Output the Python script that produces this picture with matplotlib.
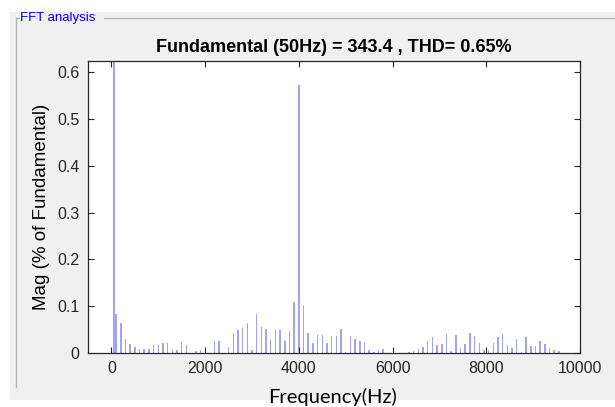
import matplotlib
matplotlib.use('Agg')
import matplotlib.pyplot as plt
from matplotlib.patches import Rectangle
from matplotlib.lines import Line2D

plt.rcParams['font.family'] = ['Liberation Sans', 'DejaVu Sans']

# harmonic spectrum, % of fundamental (fundamental itself = 100, clipped)
freqs = [50, 100, 200, 300, 400, 500, 600, 700, 800, 900, 1000, 1100, 1200,
         1300, 1400, 1500, 1600, 1800, 1900,
         2200, 2300, 2500, 2600, 2700, 2800, 2900, 3000, 3100, 3200, 3300,
         3400, 3500, 3600, 3700, 3800, 3900, 4000, 4100, 4200, 4300, 4400,
         4500, 4600, 4700, 4800, 4900, 5000, 5100, 5200, 5300, 5400, 5500,
         5600, 5700, 5800,
         6350, 6450, 6550, 6650, 6750, 6850, 6950, 7050, 7150, 7250, 7350,
         7450, 7550, 7650, 7750, 7850, 7950, 8050, 8150, 8250, 8350, 8450,
         8550, 8650, 8750, 8850, 8950, 9050, 9150, 9250, 9350, 9450, 9550]
mags = [100, 0.083, 0.063, 0.030, 0.018, 0.012, 0.008, 0.008, 0.007, 0.016,
        0.017, 0.020, 0.020, 0.005, 0.006, 0.022, 0.017, 0.004, 0.005,
        0.025, 0.025, 0.013, 0.043, 0.048, 0.052, 0.064, 0.005, 0.083, 0.055,
        0.050, 0.030, 0.051, 0.048, 0.025, 0.046, 0.109, 0.572, 0.102, 0.042,
        0.020, 0.038, 0.037, 0.020, 0.035, 0.035, 0.051, 0.002, 0.036, 0.030,
        0.025, 0.022, 0.006, 0.002, 0.006, 0.007,
        0.002, 0.004, 0.007, 0.013, 0.025, 0.033, 0.016, 0.018, 0.041, 0.003,
        0.038, 0.011, 0.019, 0.043, 0.035, 0.020, 0.005, 0.006, 0.020, 0.033,
        0.041, 0.016, 0.010, 0.030, 0.002, 0.033, 0.014, 0.014, 0.025, 0.019,
        0.010, 0.005, 0.004]

fund_hz = 50
fund_mag = 343.4
thd = 0.65

W, H = 615, 407
fig = plt.figure(figsize=(W / 100, H / 100), dpi=100)
fig.patch.set_facecolor('white')

# grey window area
fig.patches.append(Rectangle((10 / W, 7 / H), 1, (H - 19) / H,
                             transform=fig.transFigure, facecolor='#f0f0f0',
                             edgecolor='none', zorder=-5))
# panel border (etched frame)
bc = '#b4b4b4'
fig.lines.append(Line2D([16 / W, 16 / W], [20 / H, (H - 18) / H],
                        transform=fig.transFigure, color=bc, lw=0.9, zorder=-4))
fig.lines.append(Line2D([16 / W, 19 / W], [(H - 18) / H, (H - 18) / H],
                        transform=fig.transFigure, color=bc, lw=0.9, zorder=-4))
fig.lines.append(Line2D([104 / W, 1], [(H - 18) / H, (H - 18) / H],
                        transform=fig.transFigure, color=bc, lw=0.9, zorder=-4))
fig.text(20 / W, (H - 18) / H, 'FFT analysis', color='#0000ee', fontsize=9.5,
         va='center', ha='left')

ax = fig.add_axes([88 / W, (H - 352.7) / H, 492 / W, 292 / H])
ax.bar(freqs, mags, width=32, color='#a4a4ec', linewidth=0)

ax.set_xlim(-500, 10000)
ax.set_ylim(0, 0.625)
ax.set_xticks([0, 2000, 4000, 6000, 8000, 10000])
ax.set_yticks([0, 0.1, 0.2, 0.3, 0.4, 0.5, 0.6])
ax.set_yticklabels(['0', '0.1', '0.2', '0.3', '0.4', '0.5', '0.6'])
ax.tick_params(direction='in', length=4, width=0.8, labelsize=11.5,
               top=True, right=True, colors='#262626', pad=6)
for s in ax.spines.values():
    s.set_color('#262626')
    s.set_linewidth(0.9)

ax.set_title('Fundamental (%dHz) = %.1f , THD= %.2f%%' % (fund_hz, fund_mag, thd),
             fontsize=13, fontweight='bold', pad=6)
ax.set_ylabel('Mag (% of Fundamental)', fontsize=13.5, labelpad=5)
fig.text(333 / W, 10 / H, 'Frequency(Hz)', fontsize=14.5, ha='center',
         va='center', family=['Lato', 'DejaVu Sans'])

plt.savefig('out.png', dpi=100, facecolor=fig.get_facecolor())
